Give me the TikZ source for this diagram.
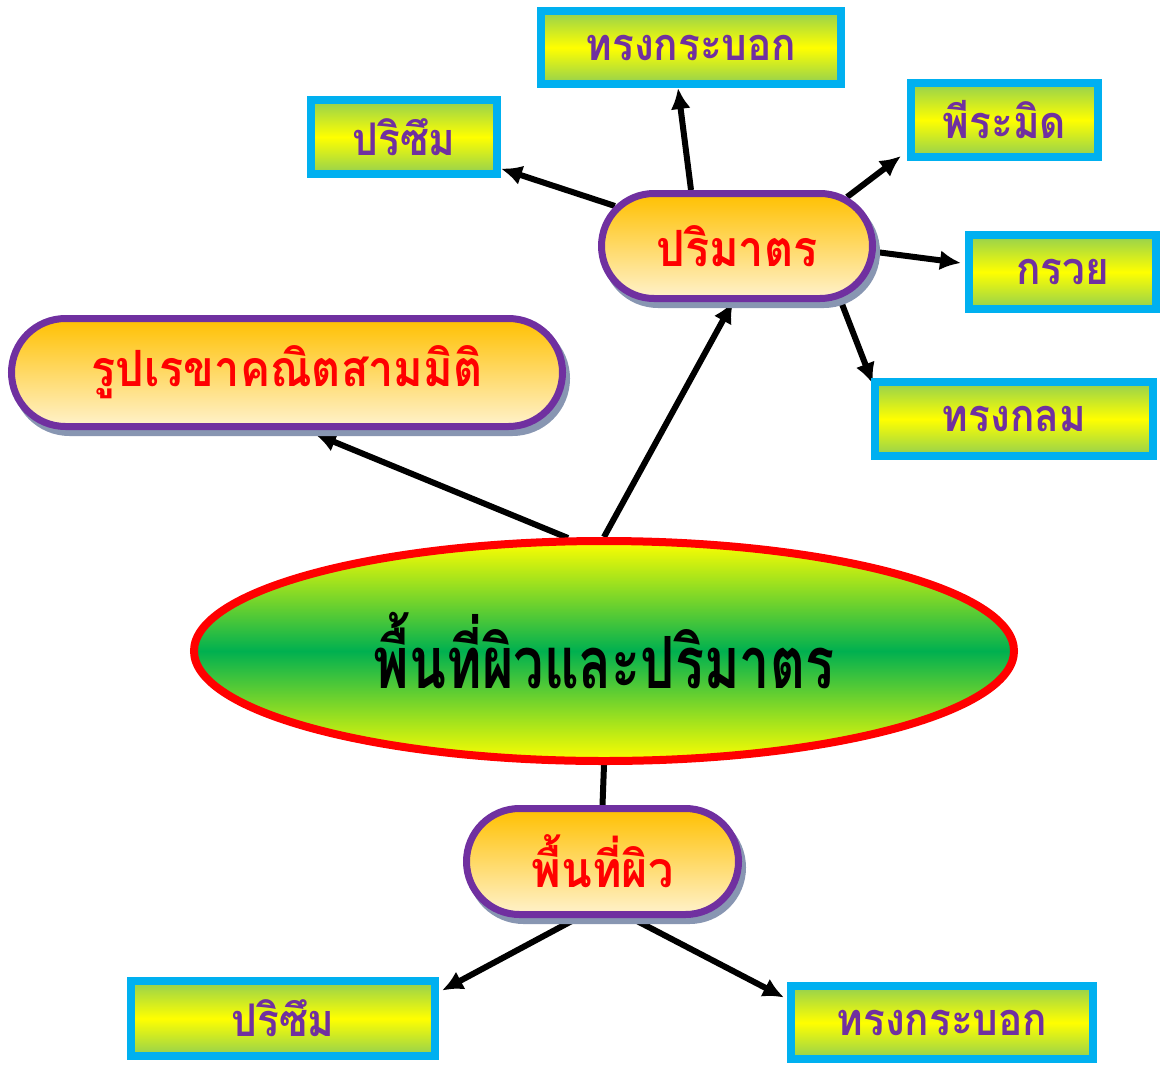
\documentclass[tikz,border=0pt]{standalone}
\usepackage{fontspec}
\newfontfamily\thai[Script=Thai,FakeStretch=0.9]{Loma}
\newfontfamily\thaic[Script=Thai,FakeStretch=0.75]{Loma}
\usetikzlibrary{shapes.geometric,shapes.misc,shadows,arrows.meta,backgrounds}
\definecolor{purp}{RGB}{112,48,160}
\definecolor{cyanb}{RGB}{0,176,240}
\definecolor{greenb}{RGB}{146,208,80}
\definecolor{orangeb}{RGB}{255,192,0}
\definecolor{creamb}{RGB}{255,242,204}
\definecolor{greenm}{RGB}{0,176,80}
\definecolor{shadowc}{RGB}{136,150,178}
\begin{document}
\begin{tikzpicture}[x=1pt,y=-1pt,
  leaf/.style={rectangle, draw=cyanb, line width=8pt, top color=greenb, bottom color=greenb, middle color=yellow,
    inner sep=0pt, text=purp, font=\thai\bfseries\fontsize{45}{48}\selectfont},
  stad/.style={rounded rectangle, draw=purp, line width=7pt, top color=orangeb, bottom color=creamb,
    inner sep=0pt, text=red, font=\thai\bfseries\fontsize{50}{52}\selectfont,
    drop shadow={shadow xshift=4pt, shadow yshift=-6pt, fill=shadowc, draw=shadowc, line width=7pt, opacity=1}},
  arr/.style={line width=6pt, -{Latex[length=21pt,width=20pt]}},
  link/.style={line width=6pt}
]
\useasboundingbox (0,0) rectangle (1161,1065);

\node[ellipse, draw=red, line width=8pt, top color=yellow, bottom color=yellow, middle color=greenm,
  minimum width=820pt, minimum height=220pt, inner sep=0pt,
  font=\thaic\bfseries\fontsize{72}{74}\selectfont, text=black] (main) at (604,651) {พื้นที่ผิวและปริมาตร};

\node[stad, minimum width=551pt, minimum height=108pt] (geo) at (287,372.5) {รูปเรขาคณิตสามมิติ};
\node[stad, minimum width=271pt, minimum height=105pt] (vol) at (737,246) {ปริมาตร};
\node[stad, minimum width=272pt, minimum height=106pt] (surf) at (602.5,861.5) {พื้นที่ผิว};

\node[leaf, minimum width=300pt, minimum height=73pt] (cyl1) at (691,47.5) {ทรงกระบอก};
\node[leaf, minimum width=186pt, minimum height=74pt] (prism1) at (404,137) {ปริซึม};
\node[leaf, minimum width=187pt, minimum height=74pt] (pyr) at (1004.5,120) {พีระมิด};
\node[leaf, minimum width=187pt, minimum height=74pt] (cone) at (1062.5,272) {กรวย};
\node[leaf, minimum width=278pt, minimum height=74pt] (sph) at (1014,419) {ทรงกลม};
\node[leaf, minimum width=304pt, minimum height=75pt] (prism2) at (283,1018.5) {ปริซึม};
\node[leaf, minimum width=302pt, minimum height=73pt] (cyl2) at (942,1022.5) {ทรงกระบอก};

\begin{scope}[on background layer]
\fill[white] (0,0) rectangle (1161,1065);
\draw[arr] (main.north) -- ([xshift=-4pt]vol.south);
\draw[arr] ([xshift=-36pt,yshift=-1pt]main.north) -- ([xshift=28pt,yshift=-4pt]geo.south);
\draw[link] (main.south) -- (surf.north);
\draw[arr] (vol) -- (prism1);
\draw[arr] ([xshift=-46pt]vol.north) -- ([xshift=-13pt]cyl1.south);
\draw[arr] (vol.24) -- ([xshift=-6pt,yshift=5pt]pyr.south west);
\draw[arr] ([yshift=-6pt]vol.east) -- ([xshift=-4pt,yshift=9pt]cone.west);
\draw[arr] (vol.-27) -- ([xshift=2pt,yshift=-6pt]sph.north west);
\draw[arr] (surf.-114) -- ([xshift=3pt,yshift=28pt]prism2.east);
\draw[arr] (surf.-63) -- ([xshift=-3pt,yshift=25pt]cyl2.west);
\end{scope}
\end{tikzpicture}
\end{document}
